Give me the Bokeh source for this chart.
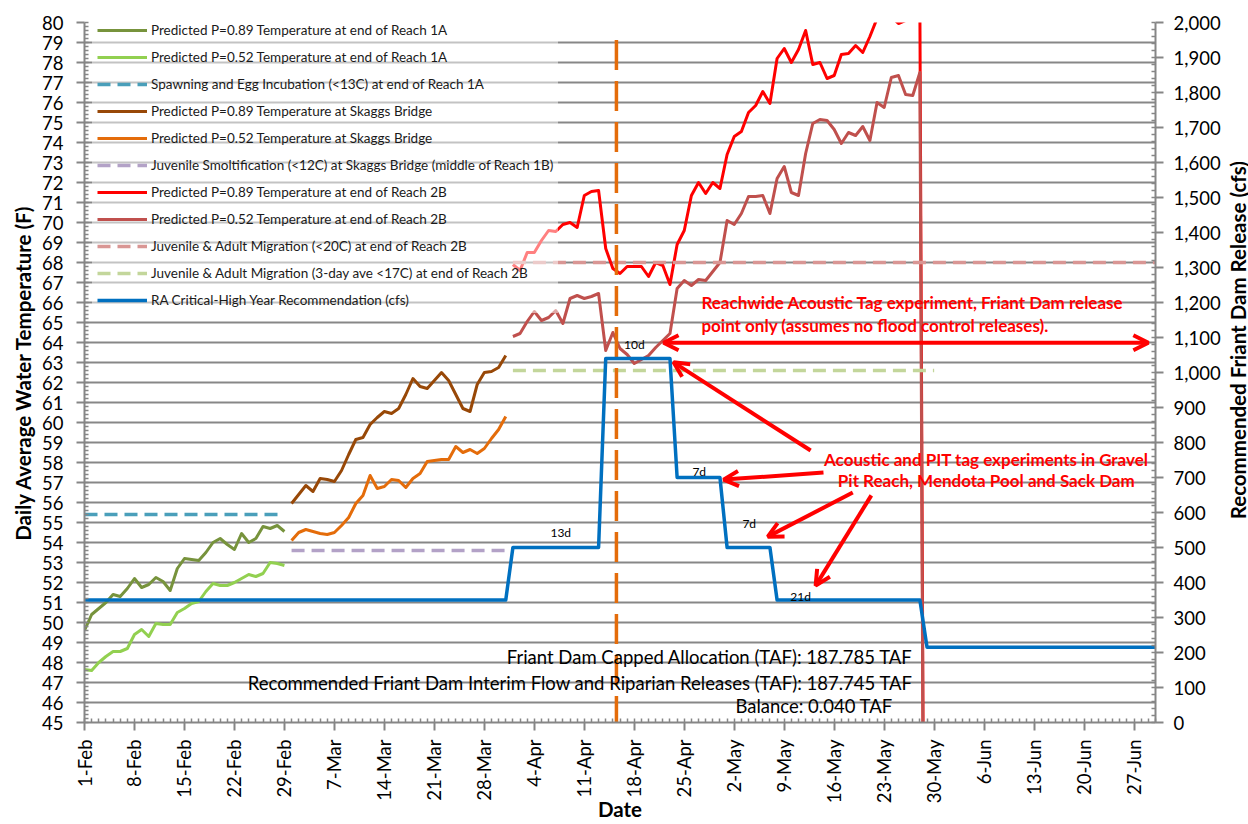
import math
import pandas as pd
from bokeh.plotting import figure
from bokeh.layouts import row
from bokeh.models import (Range1d, LinearAxis, FixedTicker, NumeralTickFormatter,
                          Legend, LegendItem, Label, Arrow, OpenHead)
from bokeh.embed import file_html
from bokeh.resources import INLINE

FONT = "Lato"
SEASON_START = pd.Timestamp("2012-02-01")


def day(d):
    return (pd.Timestamp(d) - SEASON_START) / pd.Timedelta(days=1)


# ---------------- x axis (dates) ----------------
x_end = "2012-06-30"
tick_labels = ["1-Feb", "8-Feb", "15-Feb", "22-Feb", "29-Feb", "7-Mar", "14-Mar", "21-Mar",
               "28-Mar", "4-Apr", "11-Apr", "18-Apr", "25-Apr", "2-May", "9-May", "16-May",
               "23-May", "30-May", "6-Jun", "13-Jun", "20-Jun", "27-Jun"]
tick_dates = list(pd.date_range("2012-02-01", periods=len(tick_labels), freq="7D"))

# ---------------- temperature series (deg F, daily) ----------------
reach1a_start = "2012-02-01"
reach1a_p89 = [49.6, 50.4, 50.7, 51.0, 51.4, 51.3, 51.7, 52.2, 51.75, 51.9, 52.25, 52.05, 51.6,
               52.7, 53.2, 53.15, 53.1, 53.5, 54.0, 54.2, 53.9, 53.65, 54.45, 54.0, 54.2, 54.8,
               54.7, 54.85, 54.55]
reach1a_p52 = [47.65, 47.6, 48.0, 48.3, 48.55, 48.55, 48.7, 49.4, 49.65, 49.3, 49.95, 49.9, 49.9,
               50.5, 50.7, 50.95, 51.05, 51.55, 51.95, 51.85, 51.85, 52.0, 52.2, 52.4, 52.3,
               52.45, 53.0, 52.95, 52.85]

skaggs_start = "2012-03-01"
skaggs_p89 = [55.95, 56.4, 56.85, 56.55, 57.2, 57.15, 57.05, 57.6, 58.4, 59.15, 59.25, 59.9,
              60.25, 60.55, 60.45, 60.7, 61.4, 62.2, 61.8, 61.7, 62.1, 62.5, 62.1, 61.4, 60.7,
              60.55, 61.9, 62.5, 62.55, 62.75, 63.35]
skaggs_p52 = [54.1, 54.5, 54.65, 54.55, 54.45, 54.4, 54.5, 54.85, 55.25, 55.95, 56.35, 57.35,
              56.7, 56.8, 57.15, 57.1, 56.75, 57.2, 57.45, 58.05, 58.1, 58.15, 58.15, 58.8, 58.5,
              58.65, 58.45, 58.7, 59.2, 59.65, 60.3]

reach2b_start = "2012-04-01"
reach2b_p89 = [67.9, 67.6, 68.5, 68.5, 69.1, 69.6, 69.55, 69.9, 70.0, 69.75, 71.35, 71.55, 71.6,
               68.7, 67.7, 67.45, 67.8, 67.8, 67.8, 67.3, 68.0, 67.85, 66.9, 68.9, 69.6, 71.35,
               72.0, 71.45, 72.0, 71.7, 73.4, 74.3, 74.55, 75.5, 75.85, 76.55, 75.95, 78.2, 78.7,
               78.0, 78.65, 79.6, 77.9, 78.0, 77.2, 77.35, 78.4, 78.45, 78.85, 78.5, 79.3, 80.2,
               80.7, 80.3, 79.95, 80.1, 80.3, 80.8, 0.0]
reach2b_p52 = [64.3, 64.45, 65.05, 65.55, 65.1, 65.25, 65.6, 64.95, 66.2, 66.35, 66.2, 66.3,
               66.45, 63.6, 64.5, 63.7, 63.4, 62.95, 63.15, 63.35, 63.75, 64.1, 64.45, 66.7, 67.1,
               66.85, 67.15, 67.1, 67.55, 68.0, 70.1, 69.9, 70.45, 71.3, 71.3, 71.35, 70.45, 72.2,
               72.8, 71.5, 71.35, 73.45, 74.95, 75.15, 75.1, 74.65, 73.95, 74.5, 74.35, 74.8,
               74.1, 76.0, 75.75, 77.25, 77.35, 76.4, 76.35, 77.5, 0.0]

# ---------------- thresholds (deg F) ----------------
spawn_dates = ["2012-02-01", "2012-02-29"]
spawn_13c = [55.4, 55.4]
smolt_dates = ["2012-03-01", "2012-03-31"]
smolt_12c = [53.6, 53.6]
migr20_dates = ["2012-04-01", "2012-06-30"]
migr_20c = [68.0, 68.0]
migr17_dates = ["2012-04-01", "2012-05-30"]
migr_17c = [62.6, 62.6]

# ---------------- flow recommendation (cfs) ----------------
ra_dates = ["2012-02-01", "2012-03-31", "2012-04-01", "2012-04-13", "2012-04-14", "2012-04-23",
            "2012-04-24", "2012-04-30", "2012-05-01", "2012-05-07", "2012-05-08", "2012-05-28",
            "2012-05-29", "2012-06-30"]
ra_cfs = [350, 350, 500, 500, 1040, 1040, 700, 700, 500, 500, 350, 350, 215, 215]

marker_date = "2012-04-15 12:00"
marker_cfs = [1950, 0]

legend_labels = [
    "Predicted P=0.89 Temperature at end of Reach 1A",
    "Predicted P=0.52 Temperature at end of Reach 1A",
    "Spawning and Egg Incubation (<13C) at end of Reach 1A",
    "Predicted P=0.89 Temperature at Skaggs Bridge",
    "Predicted P=0.52 Temperature at Skaggs Bridge",
    "Juvenile Smoltification (<12C) at Skaggs Bridge (middle of Reach 1B)",
    "Predicted P=0.89 Temperature at end of Reach 2B",
    "Predicted P=0.52 Temperature at end of Reach 2B",
    "Juvenile & Adult Migration (<20C) at end of Reach 2B",
    "Juvenile & Adult Migration (3-day ave <17C) at end of Reach 2B",
    "RA Critical-High Year Recommendation (cfs)",
]


def daily(start, vals):
    s = day(start)
    return [s + i for i in range(len(vals))]


GRID = "#878787"
AX = "#868686"
TITLE_SIZE = "20.5px"

H = 824
W_MAIN, W_SIDE = 1224, 24
BL, BR, BT, BB = 84, W_MAIN - 1155, 22, 102

p = figure(width=W_MAIN, height=H, x_range=Range1d(0, day(x_end)), y_range=Range1d(45, 80),
           output_backend="svg", toolbar_location=None,
           min_border_left=BL, min_border_right=BR, min_border_top=BT, min_border_bottom=BB)
p.extra_y_ranges = {"cfs": Range1d(0, 2000)}
p.outline_line_color = None
p.background_fill_color = "white"
p.border_fill_color = "white"

# left axis
lt = FixedTicker(ticks=list(range(45, 81)), minor_ticks=[45 + 0.2 * i for i in range(176)])
yax = p.yaxis[0]
yax.ticker = lt
p.ygrid[0].ticker = lt
p.ygrid.grid_line_color = GRID
p.ygrid.grid_line_width = 2
p.xgrid.visible = False

xt = FixedTicker(ticks=[day(d) for d in tick_dates], minor_ticks=list(range(0, int(day(x_end)) + 1)))
xax = p.xaxis[0]
xax.ticker = xt
xax.major_label_overrides = {day(d): lab for d, lab in zip(tick_dates, tick_labels)}
xax.major_label_orientation = math.pi / 2

rax = LinearAxis(y_range_name="cfs",
                 ticker=FixedTicker(ticks=list(range(0, 2001, 100)), minor_ticks=list(range(0, 2001, 20))),
                 formatter=NumeralTickFormatter(format="0,0"))
p.add_layout(rax, "right")

yax.axis_label = "Daily Average Water Temperature (F)"
xax.axis_label = "Date"

for ax in (yax, xax, rax):
    ax.axis_line_color = AX
    ax.axis_line_width = 2
    ax.major_tick_line_color = AX
    ax.major_tick_line_width = 2
    ax.minor_tick_line_color = AX
    ax.minor_tick_line_width = 1.5
    ax.major_tick_out = 8
    ax.major_tick_in = 0
    ax.minor_tick_in = 4
    ax.minor_tick_out = 0
    ax.major_label_text_font = FONT
    ax.major_label_text_font_size = "18.5px"
    ax.major_label_text_color = "black"
    ax.axis_label_text_font = FONT
    ax.axis_label_text_font_size = TITLE_SIZE
    ax.axis_label_text_font_style = "bold"
    ax.axis_label_text_color = "black"

yax.major_label_standoff = 13
yax.axis_label_standoff = 4
xax.major_label_standoff = 9
xax.axis_label_standoff = -9
rax.major_label_standoff = 10

LW = 3
DLW = 3.5
series = [
    (daily(reach1a_start, reach1a_p89), reach1a_p89, "#77933C", "solid", LW),
    (daily(reach1a_start, reach1a_p52), reach1a_p52, "#92D050", "solid", LW),
    ([day(d) for d in spawn_dates], spawn_13c, "#4A9FBA", "13 7", DLW),
    (daily(skaggs_start, skaggs_p89), skaggs_p89, "#984807", "solid", LW),
    (daily(skaggs_start, skaggs_p52), skaggs_p52, "#E46C0A", "solid", LW),
    ([day(d) for d in smolt_dates], smolt_12c, "#B3A2C7", "13 7", DLW),
    (daily(reach2b_start, reach2b_p89), reach2b_p89, "#FF0000", "solid", LW),
    (daily(reach2b_start, reach2b_p52), reach2b_p52, "#C0504D", "solid", LW),
    ([day(d) for d in migr20_dates], migr_20c, "#D99694", "13 7", DLW),
    ([day(d) for d in migr17_dates], migr_17c, "#C3D69B", "13 7", DLW),
]

renderers = []
for xs, ys, col, dash, lw in series:
    r = p.line(xs, ys, line_color=col, line_width=lw, line_dash=dash, line_join="round")
    renderers.append(r)

# date marker
p.line([day(marker_date)] * 2, marker_cfs, y_range_name="cfs", line_color="#E46C0A",
       line_width=3.5, line_dash="30 11")

r_ra = p.line([day(d) for d in ra_dates], ra_cfs, y_range_name="cfs", line_color="#0070C0",
              line_width=3.5, line_join="round")
renderers.append(r_ra)

legend = Legend(items=[LegendItem(label=lab, renderers=[r]) for lab, r in zip(legend_labels, renderers)],
                location=(8, 409), padding=5, margin=0, spacing=11,
                glyph_width=50, glyph_height=16, label_height=16, label_standoff=4,
                label_text_font=FONT, label_text_font_size="13.5px", label_text_color="#1a1a1a",
                background_fill_color="white", background_fill_alpha=0.5,
                border_line_alpha=0)
p.add_layout(legend)

# duration labels
dur_text = ["13d", "10d", "7d", "7d", "21d"]
dur_x = [66.7, 77.0, 86.1, 93.1, 100.3]
dur_y = [543, 1080, 717, 569, 360]
for t, x, y in zip(dur_text, dur_x, dur_y):
    p.add_layout(Label(x=x, y=y, y_range_name="cfs", text=t, text_font=FONT, text_font_size="12px",
                       text_align="center", text_baseline="middle", text_color="black"))

RED = "#FF0000"
red_notes = [
    ("Reachwide Acoustic Tag experiment, Friant Dam release", 86.4, 1200, "left"),
    ("point only (assumes no flood control releases).", 86.4, 1134, "left"),
    ("Acoustic and PIT tag experiments in Gravel", 126.3, 751, "center"),
    ("Pit Reach, Mendota Pool and Sack Dam", 126.3, 691, "center"),
]
for t, x, y, al in red_notes:
    p.add_layout(Label(x=x, y=y, y_range_name="cfs", text=t, text_font=FONT, text_font_size="17px",
                       text_font_style="bold", text_color=RED, text_align=al, text_baseline="middle"))

# double arrow for the acoustic tag experiment window
p.add_layout(Arrow(x_start=81.1, y_start=1085, x_end=149.0, y_end=1085, y_range_name="cfs",
                   start=OpenHead(size=15, line_color=RED, line_width=4),
                   end=OpenHead(size=15, line_color=RED, line_width=4),
                   line_color=RED, line_width=4))
arrows = [((101.7, 777), (82.5, 1029)), ((103.5, 714), (89.5, 694)),
          ((107.6, 657), (95.7, 531)), ((110.2, 649), (102.4, 391))]
for (xs, ys), (xe, ye) in arrows:
    p.add_layout(Arrow(x_start=xs, y_start=ys, x_end=xe, y_end=ye, y_range_name="cfs",
                       end=OpenHead(size=15, line_color=RED, line_width=4),
                       line_color=RED, line_width=4))

balance_notes = [
    ("Friant Dam Capped Allocation (TAF):  187.785 TAF", 116.7, 186),
    ("Recommended Friant Dam Interim Flow and Riparian Releases (TAF):  187.745 TAF", 116.7, 114),
    ("Balance: 0.040 TAF", 113.2, 46),
]
for t, x, y in balance_notes:
    p.add_layout(Label(x=x, y=y, y_range_name="cfs", text=t, text_font=FONT, text_font_size="18.5px",
                       text_color="black", text_align="right", text_baseline="middle"))

# narrow strip on the right carrying the secondary axis title (reads bottom to top)
side = figure(width=W_SIDE, height=H, x_range=Range1d(0, W_SIDE), y_range=Range1d(0, H),
              output_backend="svg", toolbar_location=None, min_border=0)
side.axis.visible = False
side.grid.visible = False
side.outline_line_color = None
side.background_fill_color = "white"
side.border_fill_color = "white"
side.add_layout(Label(x=13, y=H - (BT + 352), text="Recommended Friant Dam Release (cfs)",
                      angle=math.pi / 2, text_font=FONT, text_font_size=TITLE_SIZE,
                      text_font_style="bold", text_color="black",
                      text_align="center", text_baseline="middle"))

layout = row(p, side, spacing=0)
open("out.html", "w").write(file_html(layout, INLINE))
